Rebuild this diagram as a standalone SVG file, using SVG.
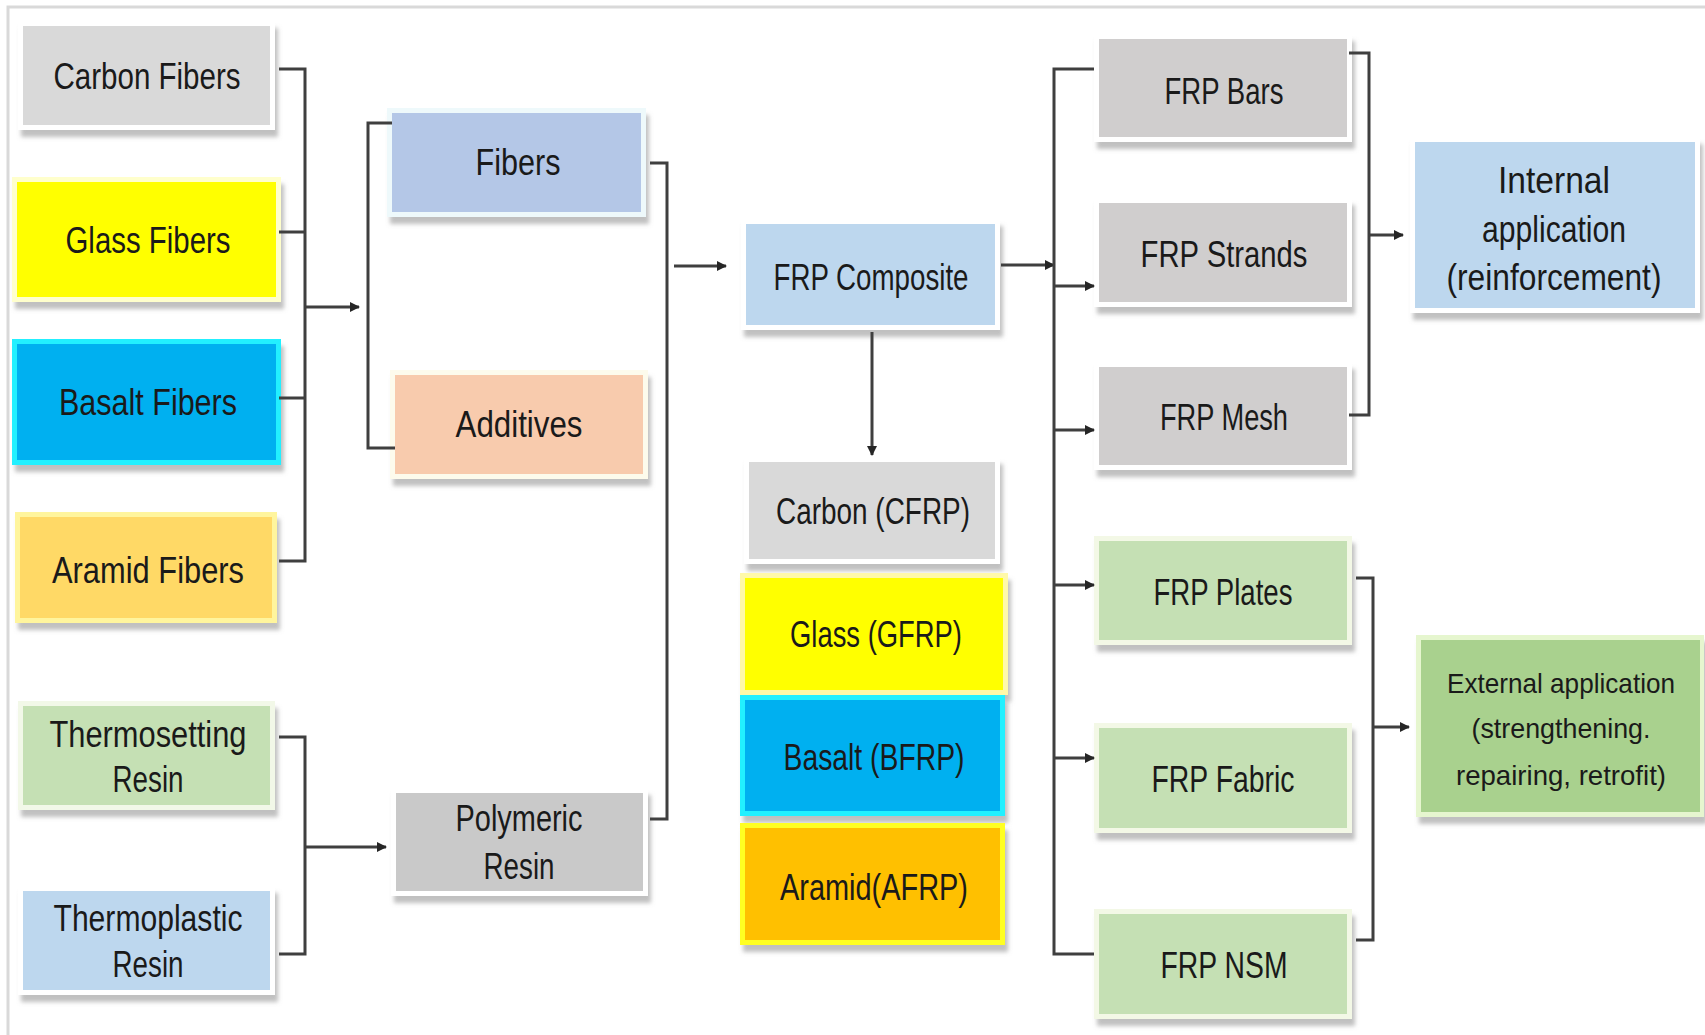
<svg xmlns="http://www.w3.org/2000/svg" width="1705" height="1035" viewBox="0 0 1705 1035">
<defs>
<filter id="sh" x="-10%" y="-10%" width="130%" height="140%">
<feDropShadow dx="3" dy="7" stdDeviation="2" flood-color="#8c8c8c" flood-opacity="0.55"/>
</filter>
<marker id="ah" viewBox="0 0 10 10" refX="9" refY="5" markerWidth="10" markerHeight="10" markerUnits="userSpaceOnUse" orient="auto">
<path d="M0,0 L10,5 L0,10 z" fill="#262626"/>
</marker>
</defs>
<style>
.frame{fill:#fff;stroke:#d9d9d9;stroke-width:3}
.bd{fill:#fff;filter:url(#sh)}
.t{font-family:"Liberation Sans","DejaVu Sans",sans-serif;font-size:36px;fill:#1a1a1a;text-anchor:middle;dominant-baseline:central}
.s{font-size:28px}
.c{fill:none;stroke:#3f3f3f;stroke-width:3}
.a{fill:none;stroke:#3f3f3f;stroke-width:3;marker-end:url(#ah)}
</style>
<rect x="0" y="0" width="1705" height="1035" fill="#fff"/>
<rect class="frame" x="8" y="7" width="1720" height="1060"/>

<g id="carbon-fibers"><rect class="bd" x="18" y="21" width="257" height="109"/><rect x="23" y="26" width="247" height="99" fill="#d9d9d9"/><text class="t" x="147" y="76" textLength="187" lengthAdjust="spacingAndGlyphs">Carbon Fibers</text></g>
<g id="glass-fibers"><rect class="bd" x="12" y="177" width="269" height="125" style="fill:#ffffcc"/><rect x="17" y="182" width="259" height="115" fill="#ffff00"/><text class="t" x="148" y="240" textLength="165" lengthAdjust="spacingAndGlyphs">Glass Fibers</text></g>
<g id="basalt-fibers"><rect class="bd" x="12" y="339" width="269" height="126" style="fill:#22f0ff"/><rect x="17" y="344" width="259" height="116" fill="#00b0f0"/><text class="t" x="148" y="402" textLength="178" lengthAdjust="spacingAndGlyphs">Basalt Fibers</text></g>
<g id="aramid-fibers"><rect class="bd" x="15" y="512" width="262" height="111" style="fill:#fff59d"/><rect x="20" y="517" width="252" height="101" fill="#ffd966"/><text class="t" x="148" y="570" textLength="192" lengthAdjust="spacingAndGlyphs">Aramid Fibers</text></g>
<g id="thermosetting-resin"><rect class="bd" x="18" y="701" width="257" height="109" style="fill:#f2f8e8"/><rect x="23" y="706" width="247" height="99" fill="#c5e0b4"/><text class="t" x="148" y="734" textLength="197" lengthAdjust="spacingAndGlyphs">Thermosetting</text><text class="t" x="148" y="779" textLength="71" lengthAdjust="spacingAndGlyphs">Resin</text></g>
<g id="thermoplastic-resin"><rect class="bd" x="18" y="886" width="257" height="109"/><rect x="23" y="891" width="247" height="99" fill="#bdd7ee"/><text class="t" x="148" y="918" textLength="189" lengthAdjust="spacingAndGlyphs">Thermoplastic</text><text class="t" x="148" y="964" textLength="71" lengthAdjust="spacingAndGlyphs">Resin</text></g>

<g id="fibers"><rect class="bd" x="387" y="108" width="259" height="109" style="fill:#eef9fb"/><rect x="392" y="113" width="249" height="99" fill="#b4c7e7"/><text class="t" x="518" y="162" textLength="85" lengthAdjust="spacingAndGlyphs">Fibers</text></g>
<g id="additives"><rect class="bd" x="390" y="370" width="258" height="109" style="fill:#fdfbec"/><rect x="395" y="375" width="248" height="99" fill="#f8cbad"/><text class="t" x="519" y="424" textLength="127" lengthAdjust="spacingAndGlyphs">Additives</text></g>
<g id="polymeric-resin"><rect class="bd" x="391" y="788" width="257" height="108"/><rect x="396" y="793" width="247" height="98" fill="#c9c9c9"/><text class="t" x="519" y="818" textLength="127" lengthAdjust="spacingAndGlyphs">Polymeric</text><text class="t" x="519" y="866" textLength="71" lengthAdjust="spacingAndGlyphs">Resin</text></g>

<g id="frp-composite"><rect class="bd" x="741" y="219" width="259" height="111"/><rect x="746" y="224" width="249" height="101" fill="#bdd7ee"/><text class="t" x="871" y="277" textLength="195" lengthAdjust="spacingAndGlyphs">FRP Composite</text></g>
<g id="carbon-cfrp"><rect class="bd" x="744" y="457" width="256" height="107"/><rect x="749" y="462" width="246" height="97" fill="#d9d9d9"/><text class="t" x="873" y="511" textLength="194" lengthAdjust="spacingAndGlyphs">Carbon (CFRP)</text></g>
<g id="glass-gfrp"><rect class="bd" x="740" y="573" width="268" height="122" style="fill:#fff9a8"/><rect x="745" y="578" width="258" height="112" fill="#ffff00"/><text class="t" x="876" y="634" textLength="172" lengthAdjust="spacingAndGlyphs">Glass (GFRP)</text></g>
<g id="basalt-bfrp"><rect class="bd" x="740" y="695" width="265" height="121" style="fill:#22f0ff"/><rect x="745" y="700" width="255" height="111" fill="#00b0f0"/><text class="t" x="874" y="757" textLength="181" lengthAdjust="spacingAndGlyphs">Basalt (BFRP)</text></g>
<g id="aramid-afrp"><rect class="bd" x="740" y="823" width="265" height="122" style="fill:#ffff22"/><rect x="745" y="828" width="255" height="112" fill="#ffc000"/><text class="t" x="874" y="887" textLength="188" lengthAdjust="spacingAndGlyphs">Aramid(AFRP)</text></g>

<g id="frp-bars"><rect class="bd" x="1094" y="34" width="258" height="108"/><rect x="1099" y="39" width="248" height="98" fill="#d0cece"/><text class="t" x="1224" y="91" textLength="119" lengthAdjust="spacingAndGlyphs">FRP Bars</text></g>
<g id="frp-strands"><rect class="bd" x="1094" y="198" width="258" height="109"/><rect x="1099" y="203" width="248" height="99" fill="#d0cece"/><text class="t" x="1224" y="254" textLength="167" lengthAdjust="spacingAndGlyphs">FRP Strands</text></g>
<g id="frp-mesh"><rect class="bd" x="1094" y="362" width="258" height="108"/><rect x="1099" y="367" width="248" height="98" fill="#d0cece"/><text class="t" x="1224" y="417" textLength="128" lengthAdjust="spacingAndGlyphs">FRP Mesh</text></g>
<g id="frp-plates"><rect class="bd" x="1094" y="536" width="258" height="109" style="fill:#f3f8e6"/><rect x="1099" y="541" width="248" height="99" fill="#c5e0b4"/><text class="t" x="1223" y="592" textLength="139" lengthAdjust="spacingAndGlyphs">FRP Plates</text></g>
<g id="frp-fabric"><rect class="bd" x="1094" y="723" width="258" height="110" style="fill:#f3f8e6"/><rect x="1099" y="728" width="248" height="100" fill="#c5e0b4"/><text class="t" x="1223" y="779" textLength="143" lengthAdjust="spacingAndGlyphs">FRP Fabric</text></g>
<g id="frp-nsm"><rect class="bd" x="1094" y="909" width="258" height="110" style="fill:#f3f8e6"/><rect x="1099" y="914" width="248" height="100" fill="#c5e0b4"/><text class="t" x="1224" y="965" textLength="127" lengthAdjust="spacingAndGlyphs">FRP NSM</text></g>

<g id="internal-application"><rect class="bd" x="1410" y="137" width="290" height="176"/><rect x="1415" y="142" width="280" height="166" fill="#bdd7ee"/><text class="t" x="1554" y="180" textLength="112" lengthAdjust="spacingAndGlyphs">Internal</text><text class="t" x="1554" y="229" textLength="144" lengthAdjust="spacingAndGlyphs">application</text><text class="t" x="1554" y="277" textLength="215" lengthAdjust="spacingAndGlyphs">(reinforcement)</text></g>
<g id="external-application"><rect class="bd" x="1416" y="635" width="288" height="182" style="fill:#e6f6cf"/><rect x="1421" y="640" width="279" height="172" fill="#a9d18e"/><text class="t s" x="1561" y="683" textLength="228" lengthAdjust="spacingAndGlyphs">External application</text><text class="t s" x="1561" y="728" textLength="179" lengthAdjust="spacingAndGlyphs">(strengthening.</text><text class="t s" x="1561" y="775" textLength="210" lengthAdjust="spacingAndGlyphs">repairing, retrofit)</text></g>

<g id="connectors">
<path class="c" d="M279,69 H305 V561 H279 M279,232 H305 M279,398 H305"/>
<path class="a" d="M305,307 H359"/>
<path class="c" d="M392,123 H368 V448 H395"/>
<path class="c" d="M650,163 H667 V819 H650"/>
<path class="a" d="M674,266 H726"/>
<path class="c" d="M279,737 H305 V954 H279"/>
<path class="a" d="M305,847 H386"/>
<path class="a" d="M1001,265 H1054"/>
<path class="c" d="M1094,69 H1054 V954 H1094"/>
<path class="a" d="M1054,286 H1094"/>
<path class="a" d="M1054,430 H1094"/>
<path class="a" d="M1054,585 H1094"/>
<path class="a" d="M1054,758 H1094"/>
<path class="a" d="M872,332 V455"/>
<path class="c" d="M1349,53 H1369 V415 H1349"/>
<path class="a" d="M1369,235 H1403"/>
<path class="c" d="M1356,578 H1373 V940 H1356"/>
<path class="a" d="M1373,727 H1409"/>
</g>
</svg>
